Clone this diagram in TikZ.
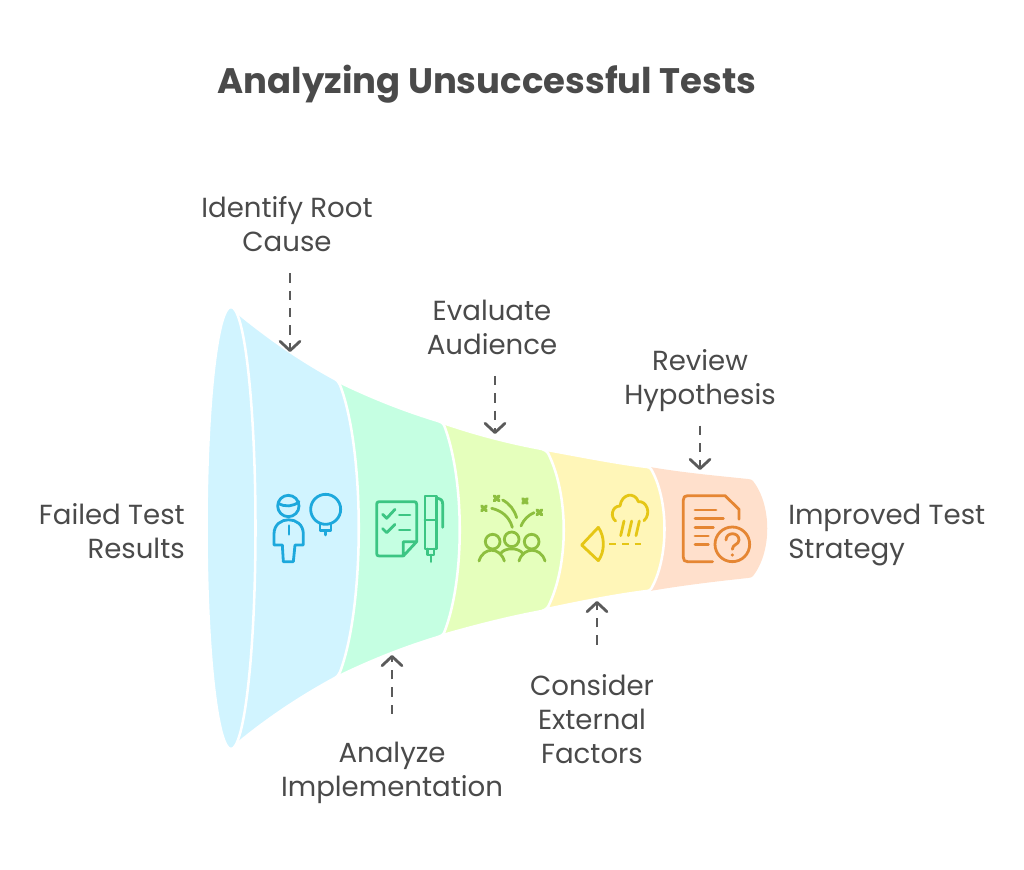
\documentclass[tikz,border=0pt]{standalone}
\usepackage{fontspec}
\setmainfont{Poppins}
\usetikzlibrary{arrows.meta}
\definecolor{inkgray}{HTML}{4A4A4A}
\definecolor{arrowgray}{HTML}{5A5A5A}
\definecolor{bluefill}{HTML}{D1F4FF}
\definecolor{greenfill}{HTML}{C5FFE2}
\definecolor{limefill}{HTML}{E5FFBC}
\definecolor{yellowfill}{HTML}{FFF6B8}
\definecolor{orangefill}{HTML}{FFE0CC}
\definecolor{blueicon}{HTML}{1DA8DC}
\definecolor{greenicon}{HTML}{3CC583}
\definecolor{limeicon}{HTML}{8DBF3F}
\definecolor{yellowicon}{HTML}{E5C615}
\definecolor{orangeicon}{HTML}{E58633}
\tikzset{
  steplabel/.style={text=inkgray,font=\fontsize{20.7}{25.5}\selectfont,align=center,inner sep=0pt},
  titlelabel/.style={text=inkgray,font=\fontsize{26.6}{30}\selectfont\bfseries,inner sep=0pt},
  dasharrow/.style={draw=arrowgray,line width=2.1pt,dash pattern=on 7pt off 6pt,-{Straight Barb[length=7pt,width=15pt,round]}},
  funnelpart/.style={draw=white,line width=1.9pt},
  iconline/.style={line width=2.1pt,line cap=round,line join=round}
}
\begin{document}
\begin{tikzpicture}[x=0.75pt,y=-0.75pt]
  \useasboundingbox (0,0) rectangle (1024,870);

  % funnel, narrow end first
  \fill[orangefill] (650,467) .. controls (685,473) and (720,476) .. (748,479) .. controls (751,479) and (752,480) .. (753,481)
    .. controls (772,505) and (772,552) .. (753,576) .. controls (752,577) and (751,578) .. (748,578) .. controls (720,581) and (685,585) .. (650,591) -- cycle;
  \draw[funnelpart,fill=yellowfill] (547,450) .. controls (580,456) and (615,463) .. (647,467) .. controls (649,467) and (650,468) .. (651,469)
    .. controls (669,500) and (669,558) .. (651,589) .. controls (650,590) and (649,591) .. (647,591) .. controls (615,595) and (580,602) .. (547,609) -- cycle;
  \draw[funnelpart,fill=limefill] (443,423) .. controls (478,435) and (510,443) .. (542,449) .. controls (545,450) and (546,451) .. (548,453)
    .. controls (569,495) and (569,565) .. (548,607) .. controls (546,609) and (545,610) .. (542,611) .. controls (510,617) and (478,625) .. (443,635) -- cycle;
  \draw[funnelpart,fill=greenfill] (339,382) .. controls (372,398) and (405,411) .. (438,421) .. controls (441,422) and (443,423) .. (444,425)
    .. controls (465,480) and (465,580) .. (444,633) .. controls (443,635) and (441,636) .. (438,637) .. controls (405,647) and (372,660) .. (339,676) -- cycle;
  \draw[funnelpart,fill=bluefill] (232,308) .. controls (265,336) and (300,360) .. (333,378) .. controls (337,380) and (339,382) .. (340,385)
    .. controls (365,450) and (365,606) .. (340,672) .. controls (339,675) and (337,677) .. (333,679) .. controls (300,697) and (265,720) .. (232,748) -- cycle;
  \draw[funnelpart,fill=bluefill] (231,528) ellipse (24.5 and 221);

  % root cause icon
  \begin{scope}[shift={(260,470)},scale=1/3,draw=blueicon,iconline]
    \draw (85,108) circle (32);
    \draw (55,100) .. controls (75,112) and (100,110) .. (117,95);
    \draw (67,225) -- (42,225) -- (42,192) .. controls (42,135) and (130,135) .. (130,192) -- (130,225) -- (105,225) -- (100,275) -- (70,275) -- cycle;
    \draw (87,167) -- (87,193);
    \draw (197,118) circle (45);
    \draw (180,163) -- (180,182) -- (213,182) -- (213,163);
    \draw (197,182) -- (197,195);
  \end{scope}

  % implementation icon
  \begin{scope}[shift={(260,470)},scale=1/3,draw=greenicon,iconline]
    \draw (430,258) -- (358,258) .. controls (352,258) and (350,256) .. (350,250) -- (350,103) .. controls (350,97) and (352,95) .. (358,95)
      -- (462,95) .. controls (468,95) and (470,97) .. (470,103) -- (470,215) -- (430,258) -- (430,215) -- (470,215);
    \draw (368,133) -- (380,145) -- (405,118);
    \draw (418,135) -- (450,135);
    \draw (368,176) -- (380,188) -- (405,163);
    \draw (418,180) -- (450,180);
    \draw (495,78) rectangle (530,237);
    \draw (495,150) -- (530,150);
    \draw (530,85) .. controls (543,85) and (548,92) .. (548,102) -- (548,172);
    \draw (503,237) -- (503,255) -- (522,255) -- (522,237);
    \draw (513,255) -- (513,275);
  \end{scope}

  % audience icon
  \begin{scope}[shift={(470,470)},scale=1/3,draw=limeicon,iconline]
    \draw (68,215) circle (22);
    \draw (125,208) circle (22);
    \draw (185,215) circle (22);
    \draw (27,273) .. controls (40,230) and (90,230) .. (103,273);
    \draw (147,273) .. controls (160,230) and (212,230) .. (225,273);
    \draw (92,250) .. controls (105,232) and (145,232) .. (158,250);
    \draw (65,115) .. controls (95,122) and (118,140) .. (127,172);
    \draw (98,90) .. controls (120,102) and (133,120) .. (140,143);
    \draw (153,168) .. controls (160,150) and (175,135) .. (192,128);
    \foreach \cx/\cy in {42/115,80/85,165/93,208/127}
      \draw[line width=2.4pt] (\cx-7,\cy-7) -- (\cx+7,\cy+7) (\cx-7,\cy+7) -- (\cx+7,\cy-7);
  \end{scope}

  % external factors icon
  \begin{scope}[shift={(470,470)},scale=1/3,draw=yellowicon,iconline]
    \draw (385,172) -- (335,225) -- (385,272);
    \draw (385,172) .. controls (405,200) and (405,245) .. (385,272);
    \draw[dash pattern=on 5pt off 4.5pt,line cap=butt] (418,222) -- (526,222);
    \draw (462,153) -- (452,197);
    \draw (485,153) -- (475,197);
    \draw (508,153) -- (498,197);
    \draw (437,153) .. controls (420,142) and (425,108) .. (450,108) .. controls (455,70) and (495,65) .. (505,95) .. controls (530,92) and (545,130) .. (522,152);
  \end{scope}

  % hypothesis icon
  \begin{scope}[shift={(640,450)},scale=1/3,draw=orangeicon,iconline]
    \draw (218,335) -- (143,335) .. controls (134,335) and (130,331) .. (130,322) -- (130,150) .. controls (130,141) and (134,137) .. (143,137) -- (255,137) -- (297,178) -- (297,208);
    \draw (165,180) -- (228,180);
    \draw (165,205) -- (250,205);
    \draw (165,232) -- (220,232);
    \draw (165,258) -- (205,258);
    \draw (165,283) -- (205,283);
    \draw (277,283) circle (52);
    \draw (258,270) .. controls (258,245) and (297,245) .. (297,270) .. controls (297,285) and (277,282) .. (277,298);
    \fill[orangeicon] (277,315) circle (5);
  \end{scope}

  % labels
  \node[titlelabel] (title) at (487,84) {Analyzing Unsuccessful Tests};
  \node[steplabel] (rootlabel) at (287,224) {Identify Root\\Cause};
  \node[steplabel] (audiencelabel) at (492,327) {Evaluate\\Audience};
  \node[steplabel] (hypolabel) at (700,381) {Review\\Hypothesis};
  \node[steplabel,anchor=east,align=right] (startlabel) at (185,531) {Failed Test\\Results};
  \node[steplabel,anchor=west,align=left] (endlabel) at (788,535) {Improved Test\\Strategy};
  \node[steplabel] (implabel) at (392,773) {Analyze\\Implementation};
  \node[steplabel] (factorlabel) at (592,719) {Consider\\External\\Factors};

  % dashed arrows
  \coordinate (roottip) at (290,352);
  \coordinate (audiencetip) at (495,434);
  \coordinate (hypotip) at (700,470);
  \coordinate (imptip) at (392,655);
  \coordinate (factortip) at (597,601);
  \draw[dasharrow,shorten <=16pt] (rootlabel.south -| roottip) -- (roottip);
  \draw[dasharrow,shorten <=16pt] (audiencelabel.south -| audiencetip) -- (audiencetip);
  \draw[dasharrow,shorten <=10pt] (hypolabel.south -| hypotip) -- (hypotip);
  \draw[dasharrow,shorten <=21pt] (implabel.north -| imptip) -- (imptip);
  \draw[dasharrow,shorten <=22pt] (factorlabel.north -| factortip) -- (factortip);
\end{tikzpicture}
\end{document}
